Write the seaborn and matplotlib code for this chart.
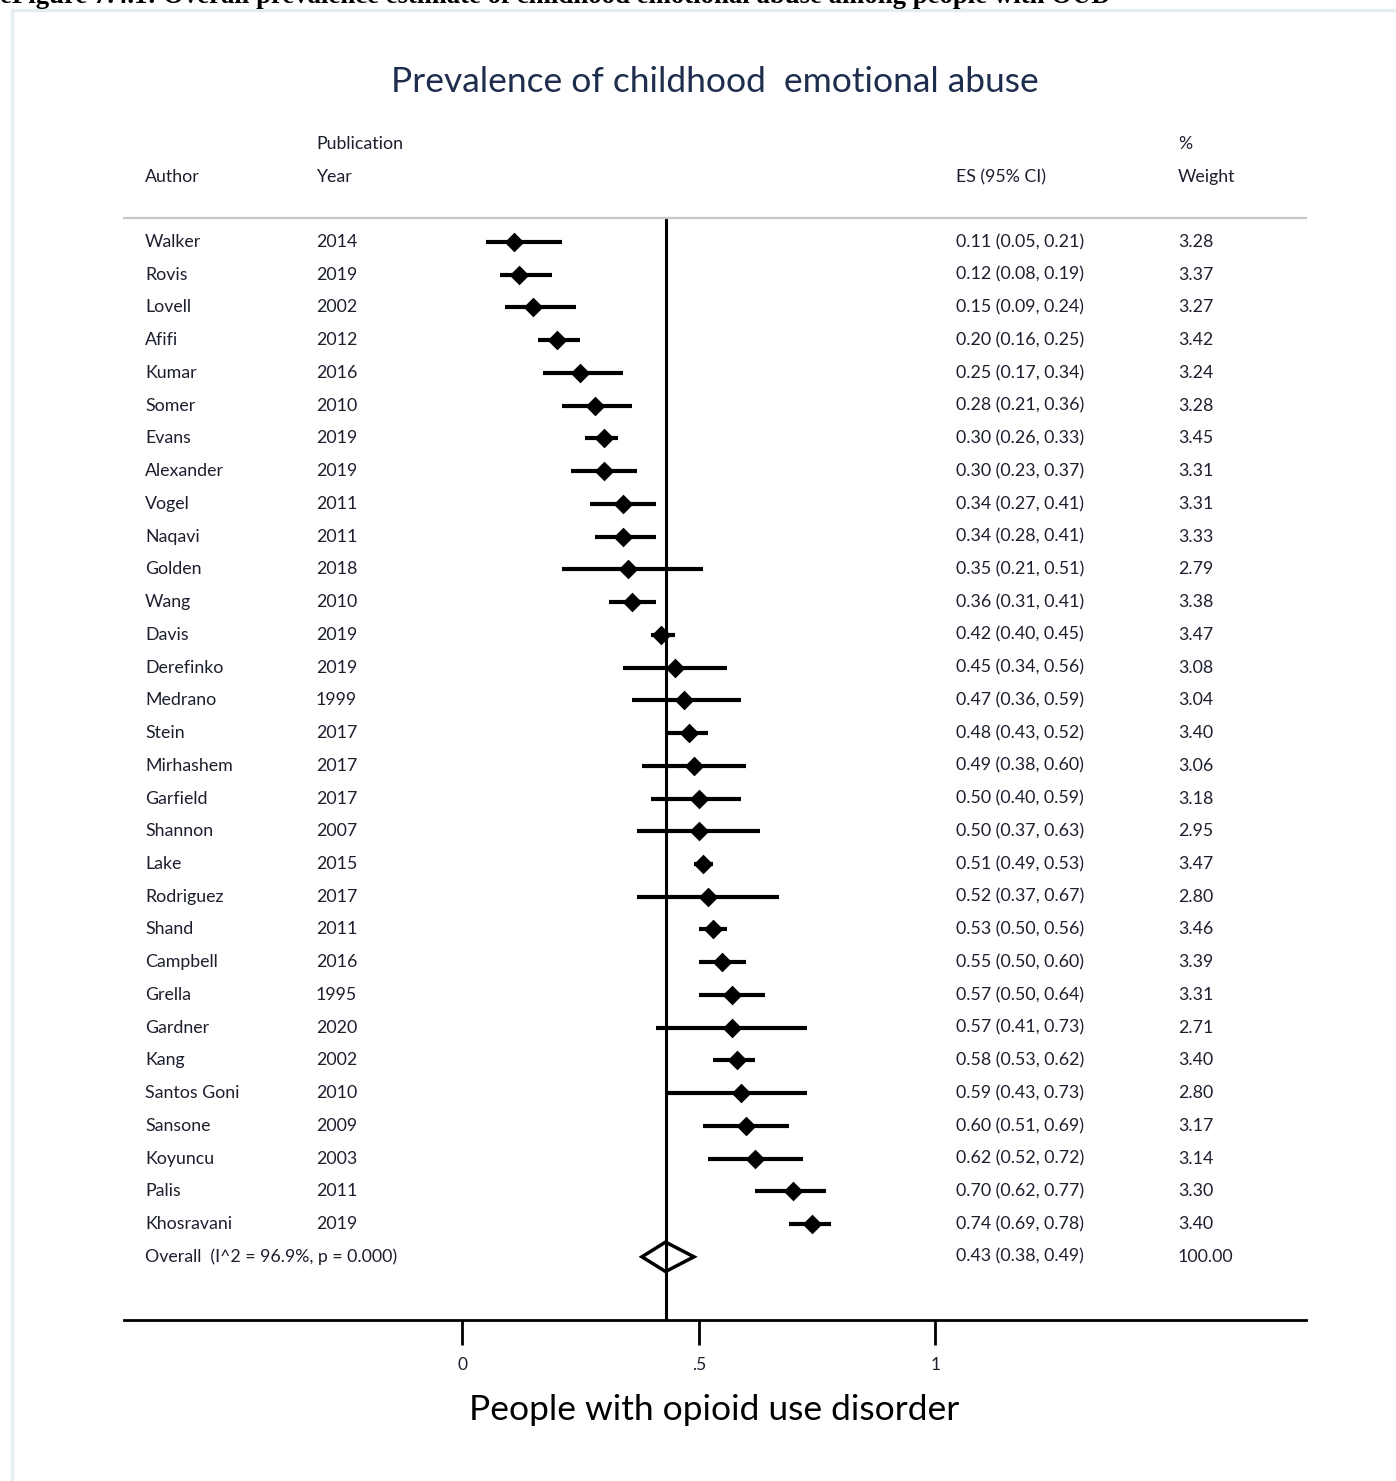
import numpy as np
import pandas as pd
import matplotlib
matplotlib.use("Agg")
import matplotlib.pyplot as plt
import matplotlib.transforms as mtrans
from matplotlib.patches import Rectangle, Polygon
import seaborn as sns

# Studien (sortiert wie in der Vorlage)
autoren = ["Walker", "Rovis", "Lovell", "Afifi", "Kumar", "Somer", "Evans",
           "Alexander", "Vogel", "Naqavi", "Golden", "Wang", "Davis",
           "Derefinko", "Medrano", "Stein", "Mirhashem", "Garfield", "Shannon",
           "Lake", "Rodriguez", "Shand", "Campbell", "Grella", "Gardner",
           "Kang", "Santos Goni", "Sansone", "Koyuncu", "Palis", "Khosravani"]
jahre = [2014, 2019, 2002, 2012, 2016, 2010, 2019, 2019, 2011, 2011, 2018,
         2010, 2019, 2019, 1999, 2017, 2017, 2017, 2007, 2015, 2017, 2011,
         2016, 1995, 2020, 2002, 2010, 2009, 2003, 2011, 2019]
es = [0.11, 0.12, 0.15, 0.20, 0.25, 0.28, 0.30, 0.30, 0.34, 0.34, 0.35, 0.36,
      0.42, 0.45, 0.47, 0.48, 0.49, 0.50, 0.50, 0.51, 0.52, 0.53, 0.55, 0.57,
      0.57, 0.58, 0.59, 0.60, 0.62, 0.70, 0.74]
ci_lo = [0.05, 0.08, 0.09, 0.16, 0.17, 0.21, 0.26, 0.23, 0.27, 0.28, 0.21,
         0.31, 0.40, 0.34, 0.36, 0.43, 0.38, 0.40, 0.37, 0.49, 0.37, 0.50,
         0.50, 0.50, 0.41, 0.53, 0.43, 0.51, 0.52, 0.62, 0.69]
ci_hi = [0.21, 0.19, 0.24, 0.25, 0.34, 0.36, 0.33, 0.37, 0.41, 0.41, 0.51,
         0.41, 0.45, 0.56, 0.59, 0.52, 0.60, 0.59, 0.63, 0.53, 0.67, 0.56,
         0.60, 0.64, 0.73, 0.62, 0.73, 0.69, 0.72, 0.77, 0.78]
gewicht = [3.28, 3.37, 3.27, 3.42, 3.24, 3.28, 3.45, 3.31, 3.31, 3.33, 2.79,
           3.38, 3.47, 3.08, 3.04, 3.40, 3.06, 3.18, 2.95, 3.47, 2.80, 3.46,
           3.39, 3.31, 2.71, 3.40, 2.80, 3.17, 3.14, 3.30, 3.40]
overall_es, overall_lo, overall_hi = 0.43, 0.38, 0.49
overall_label = "Overall  (I^2 = 96.9%, p = 0.000)"
x_ticks = [0, 0.5, 1]
x_ticklabels = ["0", ".5", "1"]

df = pd.DataFrame({"autor": autoren, "jahr": jahre, "es": es,
                   "lo": ci_lo, "hi": ci_hi, "w": gewicht})
df["zeile"] = np.arange(len(df))
n = len(df)

sns.set_theme(style="white")
plt.rcParams["font.family"] = ["Lato", "DejaVu Sans"]
txt_col = "#1c1f2e"

W, H = 1396, 1481
fig = plt.figure(figsize=(W / 100, H / 100), dpi=100)
ax = fig.add_axes([124 / W, 1 - 1320 / H, 1182 / W, (1320 - 218) / H])

# Konfidenzintervalle + Punktschaetzer
ax.hlines(df["zeile"], df["lo"], df["hi"], color="black", lw=3, zorder=2)
sns.scatterplot(data=df, x="es", y="zeile", marker="D", s=100, color="black",
                edgecolor="black", linewidth=0, ax=ax, zorder=3, legend=False)

# Gesamt-Diamant
y_ov = n
ax.add_patch(Polygon([[overall_lo, y_ov], [overall_es, y_ov - 0.45],
                      [overall_hi, y_ov], [overall_es, y_ov + 0.45]],
                     closed=True, fill=False, edgecolor="black", lw=2.5,
                     zorder=4))
ax.axvline(overall_es, color="black", lw=2.2, zorder=1)

ax.set_xlim(-0.715, 1.784)
ax.set_ylim(32.93, -0.734)
ax.set_yticks([])
ax.set_xticks(x_ticks)
ax.set_xticklabels(x_ticklabels, fontsize=12.5, color=txt_col)
ax.tick_params(axis="x", direction="out", length=18, width=2, pad=9,
               bottom=True, color="black")
for s in ["left", "right"]:
    ax.spines[s].set_visible(False)
ax.spines["top"].set_color("#c8c8c8")
ax.spines["top"].set_linewidth(1.6)
ax.spines["bottom"].set_color("black")
ax.spines["bottom"].set_linewidth(2)
ax.set_xlabel("")
ax.set_ylabel("")

# Tabellenspalten
tr = mtrans.blended_transform_factory(ax.transAxes, ax.transData)
cx = {"autor": 21 / 1182, "jahr": 192 / 1182, "es": 832 / 1182,
      "w": 1054 / 1182}
fs = 12.8
for _, r in df.iterrows():
    y = r["zeile"]
    ax.text(cx["autor"], y, r["autor"], transform=tr, va="center",
            fontsize=fs, color=txt_col)
    ax.text(cx["jahr"], y, str(r["jahr"]), transform=tr, va="center",
            fontsize=fs, color=txt_col)
    ax.text(cx["es"], y, f"{r['es']:.2f} ({r['lo']:.2f}, {r['hi']:.2f})",
            transform=tr, va="center", fontsize=fs, color=txt_col)
    ax.text(cx["w"], y, f"{r['w']:.2f}", transform=tr, va="center",
            fontsize=fs, color=txt_col)
ax.text(cx["autor"], y_ov, overall_label, transform=tr, va="center",
        fontsize=fs, color=txt_col)
ax.text(cx["es"], y_ov, f"{overall_es:.2f} ({overall_lo:.2f}, {overall_hi:.2f})",
        transform=tr, va="center", fontsize=fs, color=txt_col)
ax.text(cx["w"], y_ov, "100.00", transform=tr, va="center", fontsize=fs,
        color=txt_col)

# Kopfzeile
y_h1 = (144 - 242) / 32.7
y_h2 = (177 - 242) / 32.7
kopf = [("autor", y_h2, "Author"), ("jahr", y_h1, "Publication"),
        ("jahr", y_h2, "Year"), ("es", y_h2, "ES (95% CI)"),
        ("w", y_h1, "%"), ("w", y_h2, "Weight")]
for key, y, t in kopf:
    ax.text(cx[key], y, t, transform=tr, va="center", fontsize=fs,
            color=txt_col, clip_on=False)

# Titel und Achsenbeschriftung
fig.text(715 / W, 1 - 82 / H, "Prevalence of childhood  emotional abuse",
         ha="center", va="center", fontsize=25.5, color="#1e2d4d")
fig.text(714 / W, 1 - 1410 / H, "People with opioid use disorder",
         ha="center", va="center", fontsize=25.5, color="black")

# Rahmen und (oben abgeschnittene) Bildunterschrift wie in der Vorlage
fig.patches.append(Rectangle((12 / W, -0.05), 1.1, 1.05 - 10 / H,
                             transform=fig.transFigure, fill=False,
                             edgecolor="#e4eef0", lw=2.5))
fig.text(0.0, 1 - 3 / H,
         "eFigure 7.4.1: Overall prevalence estimate of childhood emotional "
         "abuse among people with OUD",
         ha="left", va="baseline", fontsize=19.3, fontweight="bold",
         family=["Liberation Serif", "DejaVu Serif"], color="black")

fig.savefig("out.png", dpi=100)
